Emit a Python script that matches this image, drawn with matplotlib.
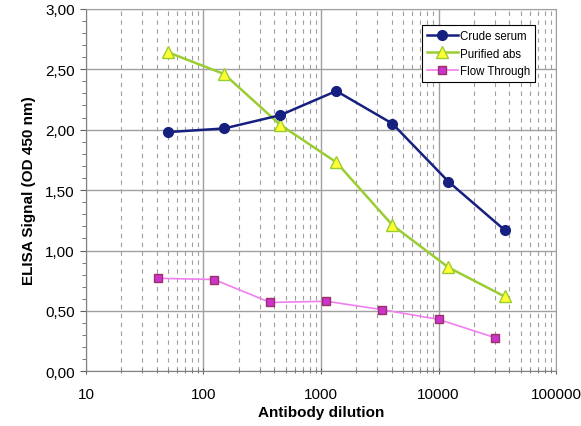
import matplotlib

matplotlib.use("Agg")
import matplotlib.pyplot as plt
from matplotlib.ticker import FuncFormatter, LogLocator, MultipleLocator, NullFormatter

plt.rcParams["font.family"] = ["Liberation Sans", "DejaVu Sans"]

# Данные
crude_x = [50, 150, 450, 1350, 4050, 12150, 36450]
crude_y = [1.98, 2.01, 2.12, 2.32, 2.05, 1.57, 1.17]

purified_x = [50, 150, 450, 1350, 4050, 12150, 36450]
purified_y = [2.64, 2.46, 2.04, 1.73, 1.21, 0.86, 0.62]

flow_x = [41, 123, 370, 1111, 3333, 10000, 30000]
flow_y = [0.77, 0.76, 0.57, 0.58, 0.51, 0.43, 0.28]

fig = plt.figure(figsize=(5.81, 4.27), dpi=100)
ax = fig.add_axes([0.148, 0.128, 0.809, 0.849])

ax.plot(crude_x, crude_y, color="#15207f", lw=1.8, marker="o", ms=7,
        mfc="#15207f", mec="#15207f", label="Crude serum", zorder=5)
ax.plot(purified_x, purified_y, color="#9acd32", lw=1.8, marker="^", ms=8,
        mfc="#ffff33", mec="#9acd32", label="Purified abs", zorder=4)
ax.plot(flow_x, flow_y, color="#f07ff0", lw=1.2, marker="s", ms=6,
        mfc="#cc33cc", mec="#993366", label="Flow Through", zorder=3)

ax.set_xscale("log")
ax.set_xlim(10, 100000)
ax.set_ylim(0, 3)
ax.xaxis.set_major_locator(LogLocator(base=10))
ax.xaxis.set_minor_locator(LogLocator(base=10, subs=range(2, 10)))
ax.xaxis.set_minor_formatter(NullFormatter())
ax.xaxis.set_major_formatter(FuncFormatter(lambda v, p: "%d" % v))
ax.yaxis.set_major_locator(MultipleLocator(0.5))
ax.yaxis.set_minor_locator(MultipleLocator(0.1))
ax.yaxis.set_major_formatter(FuncFormatter(lambda v, p: ("%.2f" % v).replace(".", ",")))

ax.grid(True, which="major", color="#a0a0a0", lw=1)
ax.grid(True, which="minor", axis="x", color="#a0a0a0", lw=0.8, ls=(0, (4, 4)))
ax.set_axisbelow(True)

for s in ["top", "right"]:
    ax.spines[s].set_color("#a0a0a0")
for s in ["left", "bottom"]:
    ax.spines[s].set_color("#808080")

ax.tick_params(which="major", length=4, color="#606060", labelsize=11)
ax.tick_params(which="minor", length=3, color="#606060")
ax.tick_params(axis="y", which="major", pad=4)
ax.tick_params(axis="x", which="both", direction="inout", pad=9)

ax.set_xlabel("Antibody dilution", fontsize=11, fontweight="bold", labelpad=3)
ax.set_ylabel("ELISA Signal (OD 450 nm)", fontsize=11, fontweight="bold", labelpad=7)

leg = ax.legend(loc="upper right", bbox_to_anchor=(0.955, 0.955), fontsize=8.3,
                fancybox=False, framealpha=1, edgecolor="black",
                handlelength=2.7, borderpad=0.4, labelspacing=0.5,
                handletextpad=0.2, borderaxespad=0)
leg.get_frame().set_linewidth(0.8)

fig.savefig("out.png", dpi=100)
